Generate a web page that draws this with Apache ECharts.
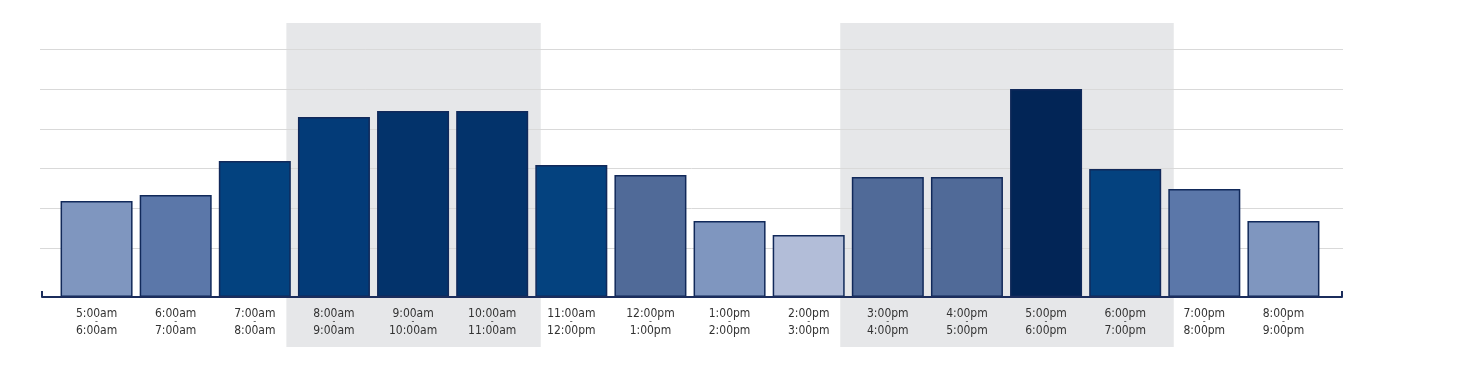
<!DOCTYPE html>
<html>
<head>
<meta charset="utf-8">
<script src="https://cdn.jsdelivr.net/npm/echarts@6/dist/echarts.min.js"></script>
<style>
  html, body { margin: 0; padding: 0; background: #fff; }
  #chart { width: 1463px; height: 377px; }
</style>
</head>
<body>
<div id="chart"></div>
<script>
// hour slots, start and end of each
const slotStarts = ['5:00am', '6:00am', '7:00am', '8:00am', '9:00am', '10:00am', '11:00am', '12:00pm',
  '1:00pm', '2:00pm', '3:00pm', '4:00pm', '5:00pm', '6:00pm', '7:00pm', '8:00pm'];
const slotEnds = ['6:00am', '7:00am', '8:00am', '9:00am', '10:00am', '11:00am', '12:00pm', '1:00pm',
  '2:00pm', '3:00pm', '4:00pm', '5:00pm', '6:00pm', '7:00pm', '8:00pm', '9:00pm'];
const traffic = [24, 25.5, 34, 45, 46.5, 46.5, 33, 30.5, 19, 15.5, 30, 30, 52, 32, 27, 19];
// peak periods, as first and last slot index
const peakRanges = [[3, 5], [10, 13]];

const barColors = ['#7f96bf', '#5b77a9', '#03427f', '#033b78', '#03336b', '#03336b', '#04427f', '#506a98',
  '#7f96bf', '#b2bdd8', '#506a98', '#506a98', '#022556', '#04427f', '#5b77a9', '#7f96bf'];
const edgeColor = '#11295a';
const font = '"Liberation Sans Narrow", "DejaVu Sans Condensed", Roboto, sans-serif';

const categories = slotStarts.map((s, i) => s + '|' + slotEnds[i]);

const chart = echarts.init(document.getElementById('chart'));

chart.setOption({
  backgroundColor: '#fff',
  animation: false,
  grid: [
    { left: 57, right: 140, top: 23, bottom: 80 },          // bars
    { left: 40, right: 120, top: 49, bottom: 128.5 },       // gridlines
    { left: 42, right: 121, top: 23, bottom: 80 }           // baseline
  ],
  xAxis: [
    {
      gridIndex: 0,
      type: 'category',
      data: categories,
      axisLine: { show: false },
      axisTick: { show: false },
      axisLabel: {
        margin: 11,
        interval: 0,
        formatter: (v) => {
          const [a, b] = v.split('|');
          return '{t|' + a + '}\n{d|-}\n{t|' + b + '}';
        },
        rich: {
          t: { fontFamily: font, fontSize: 12, fontWeight: 500, lineHeight: 11, color: '#333' },
          d: { fontFamily: font, fontSize: 9, lineHeight: 6, color: '#333' }
        }
      }
    },
    {
      gridIndex: 1, type: 'value', min: 0, max: 1, show: false
    },
    {
      gridIndex: 2,
      type: 'value',
      min: 0,
      max: 1,
      interval: 1,
      z: 3,
      axisLine: { show: true, lineStyle: { color: '#1b2d5c', width: 2 } },
      axisTick: { show: true, inside: true, length: 6, lineStyle: { color: '#1b2d5c', width: 2 } },
      axisLabel: { show: false },
      splitLine: { show: false }
    }
  ],
  yAxis: [
    { gridIndex: 0, type: 'value', min: 0, max: 68.5, show: false },
    {
      gridIndex: 1,
      type: 'value',
      min: 0,
      max: 5,
      interval: 1,
      z: 1,
      axisLine: { show: false },
      axisTick: { show: false },
      axisLabel: { show: false },
      splitLine: { show: true, lineStyle: { color: '#d9d9d9', width: 1 } }
    },
    { gridIndex: 2, type: 'value', min: 0, max: 1, show: false }
  ],
  series: [
    {
      type: 'custom',
      xAxisIndex: 0,
      yAxisIndex: 0,
      z: 0,
      silent: true,
      clip: false,
      data: peakRanges,
      renderItem: (params, api) => {
        const half = api.size([1, 0])[0] / 2;
        const p0 = api.coord([api.value(0), 0]);
        const p1 = api.coord([api.value(1), 0]);
        const cs = params.coordSys;
        const x0 = p0[0] - half - 8;
        const x1 = p1[0] + half + 9;
        return {
          type: 'rect',
          shape: { x: x0, y: cs.y, width: x1 - x0, height: cs.height + 50 },
          style: { fill: '#e6e7e9' }
        };
      }
    },
    {
      type: 'bar',
      xAxisIndex: 0,
      yAxisIndex: 0,
      z: 2,
      barWidth: 72,
      data: traffic.map((v, i) => ({
        value: v,
        itemStyle: { color: barColors[i] }
      })),
      itemStyle: { borderColor: edgeColor, borderWidth: 1.5 }
    }
  ]
});
</script>
</body>
</html>
